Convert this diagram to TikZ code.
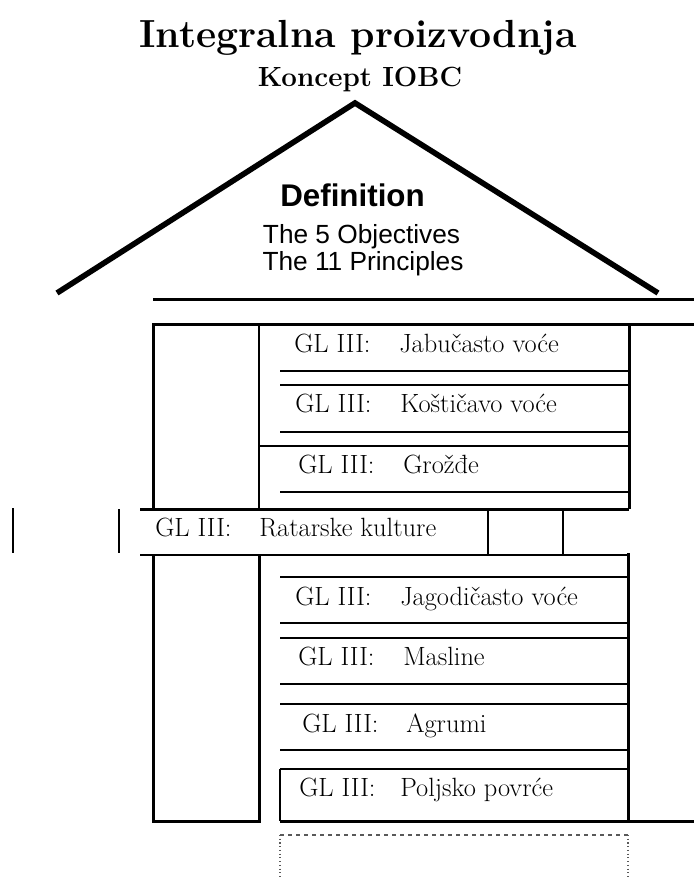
\documentclass[tikz,border=0pt]{standalone}
\usepackage{fontspec}
\newfontfamily\arialfont{Liberation Sans}
\usetikzlibrary{calc}

\begin{document}
\begin{tikzpicture}[x=0.75pt,y=-0.75pt,
  roof/.style={line width=4.2pt,line join=miter},
  frame/.style={line width=2.25pt},
  heavyrule/.style={line width=1.5pt},
  lightrule/.style={line width=0.8pt},
  gl/.style={anchor=base west,inner sep=0pt,font=\fontsize{19.8}{24}\selectfont}]
\useasboundingbox (0,0) rectangle (694,879);

\node (title) [anchor=base,inner sep=0pt,font=\fontsize{29.4}{35}\bfseries\selectfont] at (358,47) {Integralna proizvodnja};
\node (koncept) [anchor=base,inner sep=0pt,font=\fontsize{20.8}{25}\bfseries\selectfont] at (360,86) {Koncept IOBC};

\coordinate (eaveL) at (57,293);
\coordinate (apex) at (355,103);
\coordinate (eaveR) at (658,293);
\draw [roof] (eaveL) to (apex) to (eaveR);

\node (defn) [anchor=base,inner sep=0pt,font=\arialfont\bfseries\fontsize{23.5}{28}\selectfont] at (352.5,206) {Definition};
\node (goals) [anchor=base,inner sep=0pt,font=\arialfont\fontsize{19.7}{24}\selectfont] at (361.5,243) {The 5 Objectives};
\node (rules) [anchor=base,inner sep=0pt,font=\arialfont\fontsize{19.7}{24}\selectfont] at (363,270) {The 11 Principles};

% floor under the roof
\draw [frame] (153,299) to (694,299);

% upper block
\coordinate (upTL) at (153,324);
\coordinate (upBL) at (153,509);
\coordinate (upTR) at (629,324);
\coordinate (upBR) at (629,509);
\draw [frame] (upBL) to (upTL) to (694,324);
\draw [frame] (upTR) to (upBR);
\draw [heavyrule] (259,324) to (259,509);
\draw [frame] (140,509) to (upBR);

\draw [lightrule] (280,371) to (629,371);
\draw [heavyrule] (280,385) to (629,385);
\draw [lightrule] (280,432) to (629,432);
\draw [heavyrule] (259,446) to (629,446);
\draw [lightrule] (280,492) to (629,492);

\node (jab-gl) [gl] at (294,352) {GL III:};
\node (jab) [gl] at (399,352) {Jabučasto voće};
\node (kos-gl) [gl] at (295,412) {GL III:};
\node (kos) [gl] at (400,412) {Koštičavo voće};
\node (gro-gl) [gl] at (298,473) {GL III:};
\node (gro) [gl] at (403,473) {Grožđe};

% middle band
\draw [heavyrule] (13,508) to (13,553);
\draw [heavyrule] (119,509) to (119,553);
\draw [heavyrule] (488,509) to (488,555);
\draw [heavyrule] (563,509) to (563,555);
\draw [heavyrule] (140,555) to (629,555);

\node (rat-gl) [gl] at (155,536) {GL III:};
\node (rat) [gl] at (259,536) {Ratarske kulture};

% lower block
\coordinate (loTL) at (153,555);
\coordinate (loBL) at (153,821);
\coordinate (loTR) at (628,553);
\coordinate (loBR) at (628,821);
\draw [frame] (loTL) to (loBL) to (259,821) to (259,555);
\draw [frame] (loTR) to (loBR) to (694,821);
\draw [frame] (280,821) to (loBR);

\draw [lightrule] (280,577) to (628,577);
\draw [heavyrule] (280,623) to (628,623);
\draw [lightrule] (280,638) to (628,638);
\draw [lightrule] (280,684) to (628,684);
\draw [heavyrule] (280,704) to (628,704);
\draw [heavyrule] (280,750) to (628,750);
\draw [lightrule] (280,769) to (628,769);
\draw [heavyrule] (280,769) to (280,821);

\node (jag-gl) [gl] at (295,605) {GL III:};
\node (jag) [gl] at (400,605) {Jagodičasto voće};
\node (mas-gl) [gl] at (298,665) {GL III:};
\node (mas) [gl] at (403,665) {Masline};
\node (agr-gl) [gl] at (302,732) {GL III:};
\node (agr) [gl] at (406,732) {Agrumi};
\node (pov-gl) [gl] at (299,796) {GL III:};
\node (pov) [gl] at (400,796) {Poljsko povrće};

% open box below
\draw [lightrule,dashed,gray!70!black] (280,835) to (628,835);
\draw [lightrule,dotted,gray!70!black] (280,835) to (280,879);
\draw [lightrule,dotted,gray!70!black] (628,835) to (628,879);
\end{tikzpicture}
\end{document}
